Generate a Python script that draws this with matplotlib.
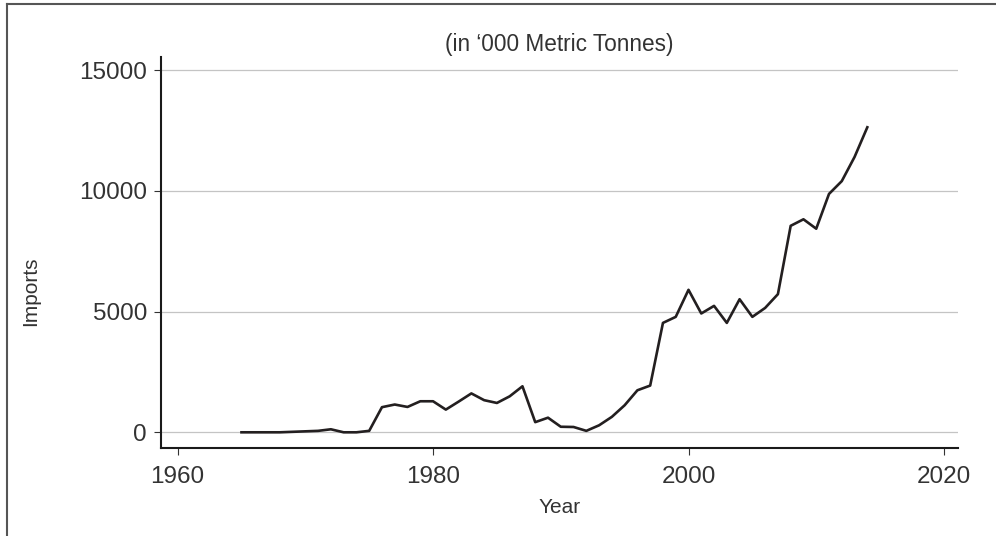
import matplotlib
matplotlib.use('Agg')
import matplotlib.pyplot as plt
from matplotlib.lines import Line2D

plt.rcParams['font.family'] = ['Liberation Sans', 'DejaVu Sans']

years = list(range(1965, 2015))
imports = [0, 0, 0, 0, 20, 40, 60, 125, 0, 0,
           60, 1040, 1150, 1050, 1285, 1285, 940, 1270, 1610, 1330,
           1215, 1490, 1905, 420, 605, 230, 220, 60, 290, 640,
           1120, 1740, 1935, 4530, 4780, 5900, 4920, 5235, 4530, 5510,
           4780, 5150, 5720, 8550, 8820, 8430, 9870, 10400, 11400, 12630]
yticks = [0, 5000, 10000, 15000]
xticks = [1960, 1980, 2000, 2020]

text_col = '#333333'

fig = plt.figure(figsize=(9.96, 5.36), dpi=100)
ax = fig.add_axes([161 / 996, 1 - 448 / 536, (958 - 161) / 996, (448 - 57) / 536])

ax.plot(years, imports, color='#231f20', lw=1.9)

ax.set_xlim(1958.7, 2021.1)
ax.set_ylim(-650, 15540)
ax.set_xticks(xticks)
ax.set_yticks(yticks)
ax.yaxis.grid(True, color='#c4c4c4', lw=0.9)
ax.set_axisbelow(True)

for s in ['top', 'right']:
    ax.spines[s].set_visible(False)
for s in ['left', 'bottom']:
    ax.spines[s].set_linewidth(1.5)
    ax.spines[s].set_color('#1a1a1a')

ax.tick_params(axis='both', length=5, width=0.8, color=text_col,
               labelcolor=text_col, labelsize=17.5)
ax.tick_params(axis='x', pad=8)
ax.tick_params(axis='y', pad=5)

ax.set_xlabel('Year', fontsize=15, color=text_col)
ax.xaxis.label.set_va('center')
ax.xaxis.set_label_coords(0.5, -0.153)
ax.set_ylabel('Imports', fontsize=15, color=text_col)
ax.yaxis.label.set_va('center')
ax.yaxis.set_label_coords(-0.163, 0.40)

ax.text(0.5, (448 - 44) / 391, '(in \u2018000 Metric Tonnes)', transform=ax.transAxes,
        ha='center', va='center', fontsize=16.3, color=text_col)

# frame round the figure (top and left edges)
fig.add_artist(Line2D([7 / 996, 1.0], [1 - 4 / 536, 1 - 4 / 536], color='#555555', lw=1.5))
fig.add_artist(Line2D([7 / 996, 7 / 996], [0, 1 - 4 / 536], color='#555555', lw=1.5))

fig.savefig('out.png', dpi=100)
